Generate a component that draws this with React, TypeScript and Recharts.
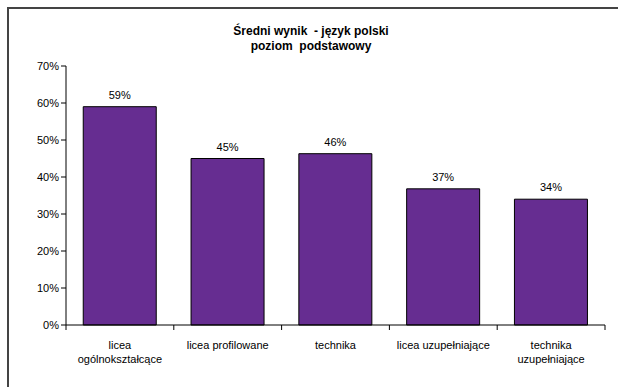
import { BarChart, Bar, XAxis, YAxis, LabelList } from "recharts";

// Średni wynik - język polski, poziom podstawowy
const categories = [
  "licea\nogólnokształcące",
  "licea profilowane",
  "technika",
  "licea uzupełniające",
  "technika\nuzupełniające",
];
const scores = [0.59, 0.45, 0.463, 0.368, 0.34];
const yTicks = [0, 0.1, 0.2, 0.3, 0.4, 0.5, 0.6, 0.7];

const FONT = "'Liberation Sans', Arial, sans-serif";
const PURPLE = "#662d91";

const data = categories.map((name, i) => ({ name, v: scores[i] }));

const pct = (v: number) => `${Math.round(v * 100)}%`;

// category label plus the tick marks that sit on the category edges
function CategoryTick({ x, y, payload, index, visibleTicksCount }: any) {
  const lines = String(payload.value).split("\n");
  const half = payload.offset ?? 0;
  const axisY = y - 8;
  return (
    <g>
      <line x1={x - half} x2={x - half} y1={axisY} y2={axisY + 5} stroke="#000" />
      {index === visibleTicksCount - 1 && (
        <line x1={x + half} x2={x + half} y1={axisY} y2={axisY + 5} stroke="#000" />
      )}
      <text x={x} y={y + 16} textAnchor="middle" fontSize={11} fill="#000" fontFamily={FONT}>
        {lines.map((l, i) => (
          <tspan key={i} x={x} dy={i === 0 ? 0 : 14}>
            {l}
          </tspan>
        ))}
      </text>
    </g>
  );
}

export default function App() {
  return (
    <div
      style={{
        position: "absolute",
        left: 0,
        top: 0,
        width: 618,
        height: 387,
        overflow: "hidden",
        background: "#fff",
        fontFamily: FONT,
      }}
    >
      <div
        style={{
          position: "absolute",
          left: 7,
          top: 7,
          width: 640,
          height: 420,
          border: "2px solid #444",
        }}
      />
      <div
        style={{
          position: "absolute",
          left: 0,
          width: 622,
          top: 24,
          textAlign: "center",
          fontSize: 12,
          fontWeight: "bold",
          lineHeight: "15px",
          color: "#000",
        }}
      >
        Średni wynik &nbsp;- język polski
        <br />
        poziom &nbsp;podstawowy
      </div>
      <BarChart
        width={618}
        height={387}
        data={data}
        margin={{ top: 66, right: 13, left: 16, bottom: 0 }}
        barCategoryGap="16%"
        style={{ position: "absolute", left: 0, top: 0 }}
      >
        <XAxis
          dataKey="name"
          height={62}
          axisLine={{ stroke: "#000" }}
          tickLine={false}
          tick={<CategoryTick />}
          interval={0}
        />
        <YAxis
          width={50}
          domain={[0, 0.7]}
          ticks={yTicks}
          tickFormatter={pct}
          axisLine={{ stroke: "#000" }}
          tickLine={{ stroke: "#000" }}
          tickSize={5}
          tick={{ fontSize: 11, fill: "#000", fontFamily: FONT }}
        />
        <YAxis
          yAxisId="frame"
          orientation="right"
          width={0}
          domain={[0, 0.7]}
          tick={false}
          tickLine={false}
          axisLine={{ stroke: "#999" }}
        />
        <XAxis
          xAxisId="frameTop"
          orientation="top"
          dataKey="name"
          height={0}
          tick={false}
          tickLine={false}
          axisLine={{ stroke: "#999" }}
        />
        <Bar dataKey="v" fill={PURPLE} stroke="#000" strokeWidth={1} isAnimationActive={false}>
          <LabelList
            dataKey="v"
            position="top"
            offset={8}
            formatter={(v: any) => pct(v)}
            style={{ fontSize: 11, fill: "#000", fontFamily: FONT }}
          />
        </Bar>
      </BarChart>
    </div>
  );
}
